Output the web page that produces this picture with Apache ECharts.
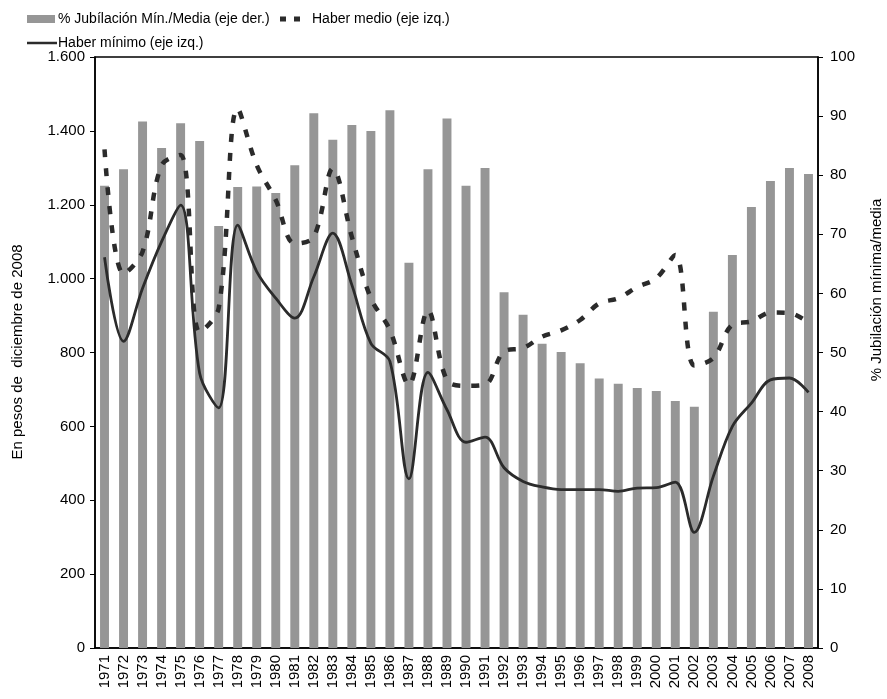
<!DOCTYPE html>
<html>
<head>
<meta charset="utf-8">
<title>Haber mínimo y medio</title>
<script src="https://cdn.jsdelivr.net/npm/echarts@6/dist/echarts.min.js"></script>
<style>
  html, body { margin: 0; padding: 0; background: #fff; }
  #chart { width: 887px; height: 699px; }
</style>
</head>
<body>
<div id="chart"></div>
<script>
/* haber minimo / medio 1971-2008 */

var years = ["1971","1972","1973","1974","1975","1976","1977","1978","1979","1980",
             "1981","1982","1983","1984","1985","1986","1987","1988","1989","1990",
             "1991","1992","1993","1994","1995","1996","1997","1998","1999","2000",
             "2001","2002","2003","2004","2005","2006","2007","2008"];

// % jubilacion minima / media (eje der.)
var pctMinMedia = [78.2, 81.0, 89.1, 84.6, 88.8, 85.8, 71.4, 78.0, 78.1, 77.0,
                   81.7, 90.5, 86.0, 88.5, 87.5, 91.0, 65.2, 81.0, 89.6, 78.2,
                   81.2, 60.2, 56.4, 51.5, 50.1, 48.2, 45.6, 44.7, 44.0, 43.5,
                   41.8, 40.8, 56.9, 66.5, 74.6, 79.0, 81.2, 80.2];

// haber medio (eje izq.)
var haberMedio = [1350, 1013, 1073, 1307, 1335, 855, 920, 1460, 1307, 1213,
                  1095, 1113, 1298, 1113, 947, 861, 713, 914, 725, 710,
                  713, 803, 812, 843, 860, 888, 933, 947, 977, 1001,
                  1064, 765, 785, 875, 884, 908, 907, 880];

// haber minimo (eje izq.)
var haberMinimo = [1058, 830, 974, 1100, 1199, 744, 650, 1145, 1019, 947,
                   893, 1005, 1123, 983, 825, 776, 458, 746, 645, 557,
                   571, 488, 451, 436, 429, 429, 429, 424, 433, 434,
                   449, 313, 465, 600, 663, 726, 731, 692];

var leftTicks = ["0","200","400","600","800","1.000","1.200","1.400","1.600"];
var rightTicks = ["0","10","20","30","40","50","60","70","80","90","100"];

var FONT = "'Liberation Sans', Arial, sans-serif";
var INK = "#2b2b2b";

var myChart = echarts.init(document.getElementById('chart'), null, {renderer: 'canvas'});

var option = {
    backgroundColor: '#fff',
    animation: false,
    textStyle: { fontFamily: FONT, color: '#000' },
    grid: {
        left: 95, right: 69, top: 57, bottom: 51,
        show: true, borderColor: '#000', borderWidth: 1.5, backgroundColor: 'transparent'
    },
    legend: [
        {
            left: 27, top: 12, padding: 0, itemWidth: 28, itemHeight: 8,
            textStyle: { fontFamily: FONT, fontSize: 14, color: '#000', padding: [0, 0, 0, -2] },
            data: [{ name: '% Jubílación Mín./Media (eje der.)', icon: 'rect' }]
        },
        {
            left: 280, top: 12, padding: 0, itemWidth: 20, itemHeight: 5,
            textStyle: { fontFamily: FONT, fontSize: 14, color: '#000', padding: [0, 0, 0, 7] },
            data: [{ name: 'Haber medio (eje izq.)', icon: 'path://M0,0h6v5h-6z M14,0h6v5h-6z' }]
        },
        {
            left: 27, top: 36, padding: 0, itemWidth: 30, itemHeight: 2.5,
            textStyle: { fontFamily: FONT, fontSize: 14, color: '#000', padding: [0, 0, 0, -4] },
            data: [{ name: 'Haber mínimo (eje izq.)', icon: 'rect' }]
        }
    ],
    xAxis: {
        type: 'category',
        data: years,
        boundaryGap: true,
        axisLine: { lineStyle: { color: '#000', width: 1.5 } },
        axisTick: { interval: 0, length: 5, lineStyle: { color: '#000' } },
        axisLabel: { interval: 0, rotate: 90, fontSize: 15, margin: 7, color: '#000', fontFamily: FONT }
    },
    yAxis: [
        {
            type: 'value', min: 0, max: 1600, interval: 200,
            axisLine: { show: true, lineStyle: { color: '#000', width: 1.5 } },
            axisTick: { show: true, length: 5, lineStyle: { color: '#000' } },
            splitLine: { show: false },
            axisLabel: {
                fontSize: 15, margin: 10, color: '#000', fontFamily: FONT,
                formatter: function (v) { return leftTicks[v / 200]; }
            }
        },
        {
            type: 'value', min: 0, max: 100, interval: 10, position: 'right',
            axisLine: { show: true, lineStyle: { color: '#000', width: 1.5 } },
            axisTick: { show: true, length: 5, lineStyle: { color: '#000' } },
            splitLine: { show: false },
            axisLabel: {
                fontSize: 15, margin: 12, color: '#000', fontFamily: FONT,
                formatter: function (v) { return rightTicks[Math.round(v / 10)]; }
            }
        }
    ],
    graphic: [
        {
            type: 'text', x: 18, y: 352, rotation: Math.PI / 2,
            style: { text: 'En pesos de  diciembre de 2008', font: '15px ' + FONT,
                     fill: '#000', textAlign: 'center', textVerticalAlign: 'middle' }
        },
        {
            type: 'text', x: 877, y: 290, rotation: Math.PI / 2,
            style: { text: '% Jubilación mínima/media', font: '15px ' + FONT,
                     fill: '#000', textAlign: 'center', textVerticalAlign: 'middle' }
        }
    ],
    series: [
        {
            name: '% Jubílación Mín./Media (eje der.)',
            type: 'bar',
            yAxisIndex: 1,
            barWidth: '47%',
            itemStyle: { color: '#969696' },
            data: pctMinMedia,
            z: 1
        },
        {
            name: 'Haber medio (eje izq.)',
            type: 'line',
            yAxisIndex: 0,
            smooth: 0.35,
            symbol: 'none',
            itemStyle: { color: INK },
            lineStyle: { color: INK, width: 4.5, type: [8, 11] },
            data: haberMedio,
            z: 3
        },
        {
            name: 'Haber mínimo (eje izq.)',
            type: 'line',
            yAxisIndex: 0,
            smooth: 0.35,
            symbol: 'none',
            itemStyle: { color: INK },
            lineStyle: { color: INK, width: 2.8 },
            data: haberMinimo,
            z: 4
        }
    ]
};

myChart.setOption(option);
</script>
</body>
</html>
